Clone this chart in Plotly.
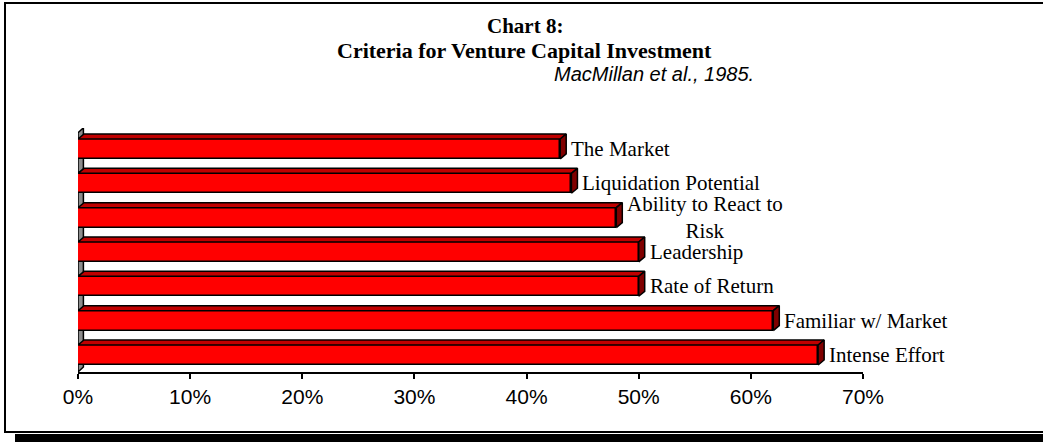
import plotly.graph_objects as go

# ---- data (bottom to top) ----
categories = ["Intense Effort", "Familiar w/ Market", "Rate of Return", "Leadership",
              "Ability to React to<br>Risk", "Liquidation Potential", "The Market"]
values = [0.66, 0.62, 0.50, 0.50, 0.48, 0.44, 0.43]
tick_vals = [0, 0.1, 0.2, 0.3, 0.4, 0.5, 0.6, 0.7]
tick_text = ["0%", "10%", "20%", "30%", "40%", "50%", "60%", "70%"]

W, H = 1043, 442
L, R, T, B = 78, 180, 128, 70
XR = [0, 0.7]
YR = [-0.495, 6.61]
pw = W - L - R
ph = H - T - B
ux = (XR[1] - XR[0]) / pw          # data units per px (x)
uy = (YR[1] - YR[0]) / ph          # data units per px (y)
dx = 6 * ux                        # 3D depth
dy = 5 * uy
hw = 0.29                          # half bar width

ys = list(range(len(categories)))

fig = go.Figure()

# front faces
fig.add_trace(go.Bar(x=values, y=ys, orientation="h", width=2 * hw,
                     marker=dict(color="#FF0000", line=dict(color="black", width=1.5)),
                     hoverinfo="skip", showlegend=False))

# top faces and side faces built from values
tx, ty, sx, sy = [], [], [], []
for yi, v in zip(ys, values):
    tx += [0, dx, v + dx, v, 0, None]
    ty += [yi + hw, yi + hw + dy, yi + hw + dy, yi + hw, yi + hw, None]
    sx += [v, v, v + dx, v + dx, v, None]
    sy += [yi - hw, yi + hw, yi + hw + dy, yi - hw + dy, yi - hw, None]
fig.add_trace(go.Scatter(x=tx, y=ty, mode="lines", fill="toself", fillcolor="#C00000",
                         line=dict(color="black", width=1.5), hoverinfo="skip", showlegend=False))
fig.add_trace(go.Scatter(x=sx, y=sy, mode="lines", fill="toself", fillcolor="#800000",
                         line=dict(color="black", width=1.5), hoverinfo="skip", showlegend=False))

# labels
for yi, v, c in zip(ys, values, categories):
    fig.add_annotation(x=v + dx, y=yi, text=c, showarrow=False, xanchor="left", yanchor="middle",
                       xshift=3, align="center",
                       font=dict(family="Times New Roman, Liberation Serif, serif", size=21, color="black"))

# left wall
ytop = 6.47
fig.add_shape(type="path", xref="x", yref="y", layer="below",
              path=f"M 0 {YR[0]} L {dx*0.9} {YR[0]+dy} L {dx*0.9} {ytop+dy} L 0 {ytop} Z",
              fillcolor="#8C8C8C", line=dict(color="black", width=1.5))

def px2x(px):
    return (px - L) / pw

def py2y(py):
    return (H - B - py) / ph

# frame and shadow
fig.add_shape(type="rect", xref="paper", yref="paper", layer="below",
              x0=px2x(5), x1=px2x(1080), y0=py2y(432), y1=py2y(3),
              line=dict(color="black", width=2), fillcolor="rgba(0,0,0,0)")
fig.add_shape(type="rect", xref="paper", yref="paper", layer="below",
              x0=px2x(15), x1=px2x(1090), y0=py2y(460), y1=py2y(434),
              line=dict(width=0), fillcolor="black")

# titles
fig.add_annotation(xref="paper", yref="paper", x=px2x(525), y=py2y(26), text="<b>Chart 8:</b>",
                   showarrow=False, xanchor="center", yanchor="middle",
                   font=dict(family="Times New Roman, Liberation Serif, serif", size=21, color="black"))
fig.add_annotation(xref="paper", yref="paper", x=px2x(524), y=py2y(50),
                   text="<b>Criteria for Venture Capital Investment</b>",
                   showarrow=False, xanchor="center", yanchor="middle",
                   font=dict(family="Times New Roman, Liberation Serif, serif", size=22, color="black"))
fig.add_annotation(xref="paper", yref="paper", x=px2x(756), y=py2y(74),
                   text="<i>MacMillan et al., 1985.</i>",
                   showarrow=False, xanchor="right", yanchor="middle",
                   font=dict(family="Arial, Liberation Sans, sans-serif", size=20, color="black"))

fig.update_layout(
    width=W, height=H,
    margin=dict(l=L, r=R, t=T, b=B, pad=0),
    paper_bgcolor="white", plot_bgcolor="rgba(0,0,0,0)",
    bargap=0,
    xaxis=dict(range=XR, tickvals=tick_vals, ticktext=tick_text, showgrid=False, zeroline=False,
               showline=True, linecolor="black", linewidth=2, ticks="outside", ticklen=5,
               tickcolor="black", tickwidth=2,
               tickfont=dict(family="Arial, Liberation Sans, sans-serif", size=21, color="black")),
    yaxis=dict(range=YR, showticklabels=False, showgrid=False, zeroline=False, showline=False,
               ticks=""),
)

fig.write_html("out.html", config={"displayModeBar": False},
               post_script="document.body.style.margin='0px';")
